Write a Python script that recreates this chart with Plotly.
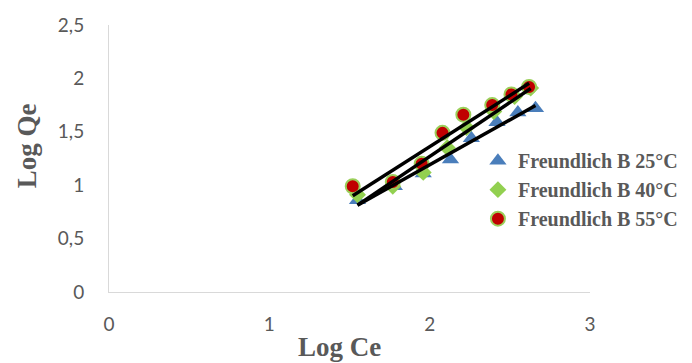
import numpy as np
import plotly.graph_objects as go

# Data
x25 = [1.55, 1.78, 1.96, 2.13, 2.26, 2.42, 2.55, 2.66]
y25 = [0.86, 0.99, 1.11, 1.24, 1.44, 1.59, 1.68, 1.72]
x40 = [1.55, 1.77, 1.96, 2.11, 2.23, 2.40, 2.53, 2.63]
y40 = [0.91, 0.99, 1.12, 1.35, 1.54, 1.69, 1.83, 1.91]
x55 = [1.52, 1.77, 1.95, 2.08, 2.21, 2.39, 2.51, 2.62]
y55 = [0.99, 1.03, 1.20, 1.49, 1.66, 1.75, 1.85, 1.92]
names = ["Freundlich B 25°C", "Freundlich B 40°C", "Freundlich B 55°C"]
x_ticks = [0, 1, 2, 3]
x_ticktext = ["0", "1", "2", "3"]
y_ticks = [0, 0.5, 1, 1.5, 2, 2.5]
y_ticktext = ["0", "0,5", "1", "1,5", "2", "2,5"]

fig = go.Figure()
fig.add_trace(go.Scatter(x=x25, y=y25, mode="markers", name="<b>" + names[0] + "</b>",
                         marker=dict(symbol="triangle-up", size=15, color="#4a7ebb",
                                     line=dict(width=0))))
fig.add_trace(go.Scatter(x=x40, y=y40, mode="markers", name="<b>" + names[1] + "</b>",
                         marker=dict(symbol="diamond", size=13, color="#92d050",
                                     line=dict(width=0))))
fig.add_trace(go.Scatter(x=x55, y=y55, mode="markers", name="<b>" + names[2] + "</b>",
                         marker=dict(symbol="circle", size=14, color="#c00000",
                                     line=dict(width=2, color="#9bcf5a"))))

# linear trendlines from the data
for xs, ys in [(x25, y25), (x40, y40), (x55, y55)]:
    xs_a = np.array(xs)
    k, b = np.polyfit(xs_a, np.array(ys), 1)
    xe = np.array([xs_a.min(), xs_a.max()])
    fig.add_trace(go.Scatter(x=xe, y=k * xe + b, mode="lines", showlegend=False,
                             hoverinfo="skip", line=dict(color="black", width=3.5)))

tick_font = dict(family="Lato, 'Open Sans', sans-serif", size=19, color="#595959")
title_font = dict(family="'Liberation Serif', 'Times New Roman', serif", size=27, color="#595959")

fig.update_layout(
    width=692, height=363,
    margin=dict(l=109, r=102, t=25, b=71, autoexpand=False),
    paper_bgcolor="white", plot_bgcolor="white",
    showlegend=True,
    legend=dict(x=0.767, xanchor="left", y=0.565, yanchor="top",
                font=dict(family="'Liberation Serif', 'Times New Roman', serif",
                          size=20, color="#595959"),
                bgcolor="rgba(0,0,0,0)", itemwidth=30, tracegroupgap=0),
    xaxis=dict(range=[0, 3], tickvals=x_ticks, ticktext=x_ticktext,
               showgrid=False, zeroline=False, showline=True, linecolor="#d9d9d9",
               linewidth=1, ticks="", tickfont=tick_font, ticklabelstandoff=15),
    yaxis=dict(range=[0, 2.5], tickvals=y_ticks, ticktext=y_ticktext,
               showgrid=False, zeroline=False, showline=True, linecolor="#d9d9d9",
               linewidth=1, ticks="", tickfont=tick_font, ticklabelstandoff=20),
    annotations=[
        dict(text="<b>Log Ce</b>", xref="paper", yref="paper", x=0.48, y=-0.206,
             xanchor="center", yanchor="middle", showarrow=False, font=title_font),
        dict(text="<b>Log Qe</b>", xref="paper", yref="paper", x=-0.17, y=0.547,
             xanchor="center", yanchor="middle", showarrow=False, textangle=-90,
             font=title_font),
    ],
)

fig.write_html("out.html")
